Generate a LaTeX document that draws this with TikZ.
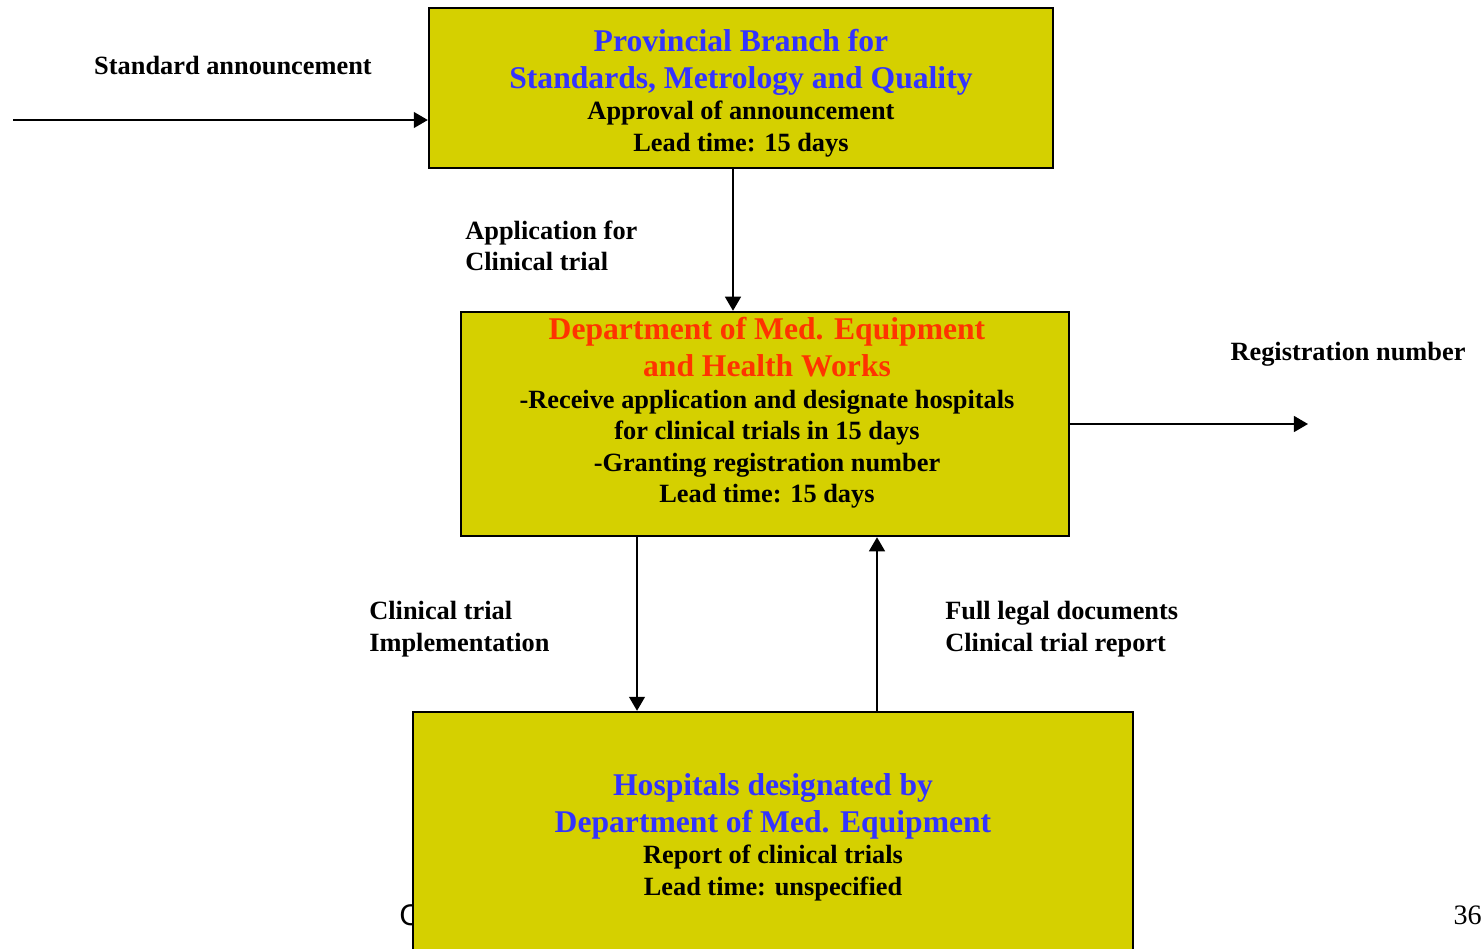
\documentclass[tikz,border=0pt]{standalone}
\usepackage{fontspec}
\setmainfont{Liberation Serif}
\newfontfamily\footfont{DejaVu Sans}
\usetikzlibrary{positioning,arrows.meta}
\definecolor{boxfill}{RGB}{213,208,0}
\definecolor{titleblue}{RGB}{51,51,255}
\definecolor{titlered}{RGB}{255,51,0}
\newcommand{\ttlfont}{\fontsize{18}{21}\selectfont}

\begin{document}
\begin{tikzpicture}[
  x=0.02cm, y=-0.02cm,
  box/.style={draw, line width=1.4pt, fill=boxfill, shape=rectangle, inner sep=0pt},
  boxtext/.style={align=center, inner sep=0pt, font=\bfseries\fontsize{15}{18}\selectfont},
  lbl/.style={align=left, inner sep=0pt, font=\bfseries\fontsize{15}{18}\selectfont},
  flow/.style={line width=1.1pt, -{Triangle[length=8pt, width=9pt]}}
]
  \useasboundingbox (0,0) rectangle (1482,948);
  \clip (0,0) rectangle (1482,948);

  % footer, partly under the hospital box
  \node[anchor=west, inner sep=0pt, font=\footfont\fontsize{16}{18}\selectfont] (foot-c) at (399,915) {C};
  \node[anchor=east, inner sep=0pt, font=\fontsize{16}{18}\selectfont] (page-no) at (1482,915) {36};

  \node[box, minimum width=12.48cm, minimum height=3.2cm] (prov) at (741,88) {};
  \node[box, minimum width=12.16cm, minimum height=4.48cm] (dept) at (765,424) {};
  \node[box, minimum width=14.4cm, minimum height=5.36cm] (hosp) at (773,846) {};

  \node[boxtext] (prov-text) at (741,93) {%
    {\color{titleblue}\ttlfont Provincial Branch for}\\[3pt]
    {\color{titleblue}\ttlfont Standards, Metrology and Quality}\\
    Approval of announcement\\
    Lead time: 15 days};
  \node[boxtext] (dept-text) at (767,413) {%
    {\color{titlered}\ttlfont Department of Med. Equipment}\\[3pt]
    {\color{titlered}\ttlfont and Health Works}\\
    -Receive application and designate hospitals\\
    for clinical trials in 15 days\\
    -Granting registration number\\
    Lead time: 15 days};
  \node[boxtext] (hosp-text) at (773,837) {%
    {\color{titleblue}\ttlfont Hospitals designated by}\\[3pt]
    {\color{titleblue}\ttlfont Department of Med. Equipment}\\
    Report of clinical trials\\
    Lead time: unspecified};

  \node[lbl] (std-lbl) at (233,66) {Standard announcement};
  \node[lbl, anchor=west] (app-lbl) at (465,246) {Application for\\Clinical trial};
  \node[lbl] (reg-lbl) at (1348,354) {Registration number};
  \node[lbl, anchor=west] (impl-lbl) at (369,629) {Clinical trial\\Implementation};
  \node[lbl, anchor=west] (docs-lbl) at (945,629) {Full legal documents\\Clinical trial report};

  \coordinate (std-in) at (13,120);
  \coordinate (reg-out) at (1308,424);

  \draw[flow] (std-in) -- (std-in -| prov.west);
  \draw[flow] ([shift={(-8,0)}]prov.south) -- ([shift={(-8,0)}]prov.south |- dept.north);
  \draw[flow] (dept.east) -- (reg-out);
  \draw[flow] ([shift={(-128,0)}]dept.south) -- ([shift={(-128,0)}]dept.south |- hosp.north);
  \draw[flow] ([shift={(104,0)}]hosp.north) -- ([shift={(104,0)}]hosp.north |- dept.south);
\end{tikzpicture}
\end{document}
